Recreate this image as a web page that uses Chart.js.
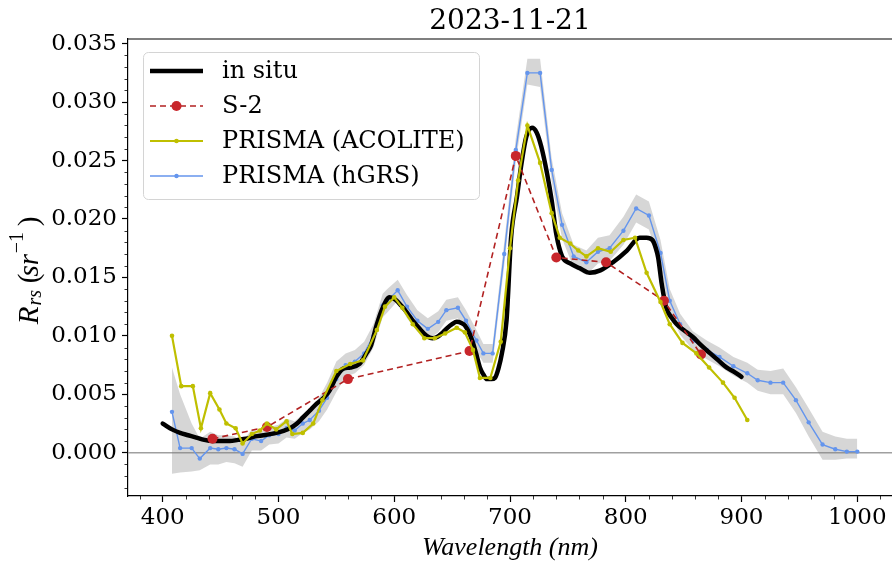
<!DOCTYPE html>
<html>
<head>
<meta charset="utf-8">
<script src="https://cdn.jsdelivr.net/npm/chart.js@4.4.1/dist/chart.umd.min.js"></script>
<style>
  html, body { margin: 0; padding: 0; background: #fff; }
  #wrap { width: 892px; height: 565px; }
</style>
</head>
<body>
<div id="wrap"><canvas id="rrsChart" width="892" height="565"></canvas></div>
<script>
// Remote sensing reflectance spectra, 2023-11-21
const insituWl = [400, 408, 415, 422, 429, 436, 443, 450, 458, 465, 472, 480, 487, 498, 505, 510, 516, 521, 527, 533,
  539, 544, 550, 556, 562, 570, 576, 580, 585, 590, 596, 601, 606, 611, 616, 622, 628, 633, 637, 641,
  645, 650, 654, 658, 661, 665, 668, 671, 674, 677, 680, 684, 687, 690, 693, 697, 701, 706, 710, 714,
  719, 723, 727, 732, 736, 740, 745, 752, 760, 769, 778, 789, 801, 812, 818, 823, 826, 828, 831, 835,
  840, 844, 850, 858, 865, 873, 880, 887, 894, 900];
const insituRrs = [0.0025, 0.0020, 0.0017, 0.0015, 0.0013, 0.0011, 0.0010, 0.0010, 0.0010, 0.0011, 0.0012, 0.0014, 0.0015, 0.0017, 0.0019, 0.0021, 0.0025, 0.0030, 0.0036, 0.0042,
  0.0047, 0.0053, 0.0065, 0.0072, 0.0073, 0.0076, 0.0085, 0.0092, 0.0110, 0.0124, 0.0133, 0.0131, 0.0126, 0.0120, 0.0113, 0.0106, 0.0100, 0.0098, 0.0099, 0.0102,
  0.0106, 0.0110, 0.0112, 0.0111, 0.0109, 0.0102, 0.0094, 0.0084, 0.0073, 0.0067, 0.0063, 0.0063, 0.0064, 0.0072, 0.0085, 0.0113, 0.0185, 0.0219, 0.0248, 0.0270,
  0.0278, 0.0274, 0.0262, 0.0239, 0.0216, 0.0187, 0.0168, 0.0162, 0.0158, 0.0154, 0.0156, 0.0163, 0.0173, 0.0184, 0.0184, 0.0182, 0.0175, 0.0167, 0.0145, 0.0124,
  0.0115, 0.0110, 0.0105, 0.0099, 0.0092, 0.0085, 0.0079, 0.0073, 0.0069, 0.0065];

const s2Wl = [443, 490, 560, 665, 705, 740, 783, 833, 865];
const s2Rrs = [0.0012, 0.0022, 0.0063, 0.0087, 0.0254, 0.0167, 0.0163, 0.0130, 0.0084];

const acoliteWl = [408, 416, 426, 433, 441, 449, 455, 463, 469, 477, 484, 490, 498, 507, 512, 521, 530, 538, 550, 562,
  573, 585, 592, 600, 607, 616, 626, 635, 644, 654, 661, 668, 674, 683, 692, 700, 707, 715, 726, 736,
  743, 752, 759, 766, 776, 787, 798, 808, 818, 830, 838, 849, 861, 872, 884, 894, 905];
const acoliteRrs = [0.0100, 0.0057, 0.0057, 0.0021, 0.0051, 0.0037, 0.0025, 0.0021, 0.0008, 0.0016, 0.0019, 0.0025, 0.0020, 0.0027, 0.0016, 0.0017, 0.0025, 0.0045, 0.0070, 0.0076,
  0.0079, 0.0105, 0.0125, 0.0133, 0.0124, 0.0110, 0.0098, 0.0098, 0.0102, 0.0107, 0.0103, 0.0088, 0.0064, 0.0064, 0.0095, 0.0175, 0.0233, 0.0280, 0.0248, 0.0205,
  0.0184, 0.0179, 0.0173, 0.0168, 0.0175, 0.0172, 0.0182, 0.0184, 0.0154, 0.0129, 0.0110, 0.0094, 0.0085, 0.0073, 0.0060, 0.0047, 0.0028];

const hgrsWl = [408, 415, 425, 432, 441, 448, 455, 462, 469, 477, 485, 492, 500, 507, 514, 521, 527, 535, 542, 550,
  558, 566, 574, 582, 590, 594, 603, 611, 620, 629, 638, 645, 655, 662, 671, 677, 685, 695, 705, 715,
  726, 736, 745, 755, 766, 776, 786, 798, 809, 820, 830, 838, 847, 858, 870, 881, 893, 905, 914, 925,
  936, 947, 958, 970, 981, 991, 1000];
const hgrsRrs = [0.0035, 0.0004, 0.0004, -0.0005, 0.0004, 0.0003, 0.0004, 0.0003, -0.0001, 0.0012, 0.0010, 0.0015, 0.0016, 0.0021, 0.0019, 0.0025, 0.0028, 0.0036, 0.0047, 0.0063,
  0.0075, 0.0078, 0.0085, 0.0100, 0.0126, 0.0130, 0.0139, 0.0125, 0.0113, 0.0106, 0.0112, 0.0122, 0.0124, 0.0113, 0.0096, 0.0085, 0.0085, 0.0170, 0.0259, 0.0325,
  0.0325, 0.0242, 0.0195, 0.0168, 0.0163, 0.0172, 0.0175, 0.0190, 0.0209, 0.0203, 0.0171, 0.0130, 0.0110, 0.0096, 0.0088, 0.0082, 0.0074, 0.0068, 0.0062, 0.0060,
  0.0060, 0.0045, 0.0026, 0.0007, 0.0003, 0.0001, 0.0001];
// hGRS spread (shaded envelope)
const hgrsLow = [-0.0018, -0.0017, -0.0016, -0.0015, -0.0010, -0.0010, -0.0008, -0.0009, -0.0012, 0.0002, 0.0002, 0.0007, 0.0008, 0.0013, 0.0012, 0.0017, 0.0020, 0.0027, 0.0037, 0.0052,
  0.0065, 0.0068, 0.0075, 0.0090, 0.0116, 0.0120, 0.0130, 0.0115, 0.0104, 0.0097, 0.0103, 0.0113, 0.0115, 0.0104, 0.0087, 0.0077, 0.0077, 0.0160, 0.0249, 0.0315,
  0.0313, 0.0232, 0.0183, 0.0158, 0.0152, 0.0162, 0.0164, 0.0178, 0.0197, 0.0191, 0.0160, 0.0120, 0.0101, 0.0088, 0.0080, 0.0074, 0.0066, 0.0060, 0.0053, 0.0050,
  0.0050, 0.0034, 0.0014, -0.0006, -0.0006, -0.0005, -0.0005];
const hgrsHigh = [0.0073, 0.0050, 0.0025, 0.0012, 0.0018, 0.0015, 0.0015, 0.0014, 0.0010, 0.0020, 0.0018, 0.0022, 0.0024, 0.0029, 0.0027, 0.0033, 0.0038, 0.0047, 0.0060, 0.0078,
  0.0085, 0.0088, 0.0095, 0.0110, 0.0136, 0.0140, 0.0148, 0.0135, 0.0122, 0.0115, 0.0121, 0.0131, 0.0133, 0.0122, 0.0105, 0.0093, 0.0093, 0.0180, 0.0269, 0.0337,
  0.0337, 0.0252, 0.0205, 0.0178, 0.0173, 0.0184, 0.0186, 0.0202, 0.0221, 0.0215, 0.0182, 0.0140, 0.0119, 0.0104, 0.0096, 0.0090, 0.0082, 0.0077, 0.0071, 0.0070,
  0.0072, 0.0056, 0.0038, 0.0018, 0.0014, 0.0012, 0.0012];

const xTicks = [400, 500, 600, 700, 800, 900, 1000];
const yTicks = [0, 0.005, 0.01, 0.015, 0.02, 0.025, 0.03, 0.035];
const xMinor = [380, 420, 440, 460, 480, 520, 540, 560, 580, 620, 640, 660, 680, 720, 740, 760, 780, 820, 840, 860, 880, 920, 940, 960, 980, 1020];
const yMinor = [-0.003, -0.002, -0.001, 0.001, 0.002, 0.003, 0.004, 0.006, 0.007, 0.008, 0.009, 0.011, 0.012, 0.013, 0.014,
  0.016, 0.017, 0.018, 0.019, 0.021, 0.022, 0.023, 0.024, 0.026, 0.027, 0.028, 0.029, 0.031, 0.032, 0.033, 0.034];

const pts = (xs, ys) => xs.map((x, i) => ({ x: x, y: ys[i] }));

const SERIF = '"DejaVu Serif", serif';
const TIMES = '"Liberation Serif", serif';

// y label with sub/superscripts, drawn rotated
function drawYLabel(ctx, cx, cy) {
  const parts = [
    { t: 'R', f: 'italic 29px ' + TIMES, dy: 0 },
    { t: 'rs', f: 'italic 20px ' + TIMES, dy: 6 },
    { t: ' (', f: '29px ' + TIMES, dy: 0 },
    { t: 'sr', f: 'italic 29px ' + TIMES, dy: 0 },
    { t: '\u22121', f: '20px ' + TIMES, dy: -12 },
    { t: ')', f: '29px ' + TIMES, dy: 0 },
  ];
  ctx.save();
  ctx.translate(cx, cy);
  ctx.rotate(-Math.PI / 2);
  let total = 0;
  parts.forEach((p) => { ctx.font = p.f; p.w = ctx.measureText(p.t).width; total += p.w; });
  let x = -total / 2;
  ctx.fillStyle = '#000';
  ctx.textBaseline = 'middle';
  parts.forEach((p) => {
    ctx.font = p.f;
    ctx.fillText(p.t, x, p.dy);
    x += p.w;
  });
  ctx.restore();
}

const decorations = {
  id: 'decorations',
  beforeDatasetsDraw(chart) {
    const { ctx, chartArea: a, scales } = chart;
    const y0 = scales.y.getPixelForValue(0);
    ctx.save();
    ctx.strokeStyle = '#a0a0a0';
    ctx.lineWidth = 1.5;
    ctx.beginPath();
    ctx.moveTo(a.left, y0);
    ctx.lineTo(a.right, y0);
    ctx.stroke();
    ctx.restore();
  },
  afterDraw(chart) {
    const { ctx, chartArea: a, scales } = chart;
    ctx.save();
    // top spine
    ctx.strokeStyle = '#000';
    ctx.lineWidth = 1.2;
    ctx.beginPath();
    ctx.moveTo(a.left, a.top);
    ctx.lineTo(a.right, a.top);
    ctx.stroke();

    // minor ticks
    ctx.lineWidth = 0.8;
    ctx.beginPath();
    xMinor.forEach((v) => {
      const px = Math.round(scales.x.getPixelForValue(v)) + 0.5;
      ctx.moveTo(px, a.bottom);
      ctx.lineTo(px, a.bottom + 3.5);
    });
    yMinor.forEach((v) => {
      const py = Math.round(scales.y.getPixelForValue(v)) + 0.5;
      ctx.moveTo(a.left, py);
      ctx.lineTo(a.left - 3.5, py);
    });
    ctx.stroke();

    // title
    ctx.fillStyle = '#000';
    ctx.font = '28px ' + SERIF;
    ctx.textAlign = 'center';
    ctx.textBaseline = 'middle';
    ctx.fillText('2023-11-21', (a.left + a.right) / 2, 22);

    // x label
    ctx.font = 'italic 26px ' + TIMES;
    ctx.fillText('Wavelength (nm)', (a.left + a.right) / 2, 548);

    drawYLabel(ctx, 30, (a.top + a.bottom) / 2 - 4);

    // legend box
    const lx = 143, ly = 52, lw = 336, lh = 147;
    ctx.beginPath();
    ctx.roundRect(lx + 0.5, ly + 0.5, lw, lh, 5);
    ctx.fillStyle = 'rgba(255,255,255,0.85)';
    ctx.fill();
    ctx.strokeStyle = '#d4d4d4';
    ctx.lineWidth = 1;
    ctx.stroke();

    const rows = [71, 106, 141, 176];
    chart.data.datasets.slice(0, 4).forEach((ds, i) => {
      const ry = rows[i];
      ctx.save();
      ctx.strokeStyle = ds.borderColor;
      ctx.lineWidth = ds.borderWidth;
      ctx.setLineDash(ds.borderDash || []);
      ctx.beginPath();
      ctx.moveTo(150, ry);
      ctx.lineTo(203, ry);
      ctx.stroke();
      ctx.setLineDash([]);
      if (ds.pointRadius > 0) {
        ctx.fillStyle = ds.pointBackgroundColor;
        ctx.beginPath();
        ctx.arc(176.5, ry, ds.pointRadius, 0, Math.PI * 2);
        ctx.fill();
      }
      ctx.restore();
      ctx.fillStyle = '#000';
      ctx.font = '24px ' + SERIF;
      ctx.textAlign = 'left';
      ctx.textBaseline = 'middle';
      ctx.fillText(ds.label, 222, ry + 1);
    });
    ctx.restore();
  }
};

new Chart(document.getElementById('rrsChart').getContext('2d'), {
  type: 'line',
  data: {
    datasets: [
      {
        label: 'in situ',
        data: pts(insituWl, insituRrs),
        borderColor: '#000000',
        borderWidth: 4.5,
        pointRadius: 0,
        cubicInterpolationMode: 'monotone',
        borderCapStyle: 'round',
        borderJoinStyle: 'round',
        order: 2,
      },
      {
        label: 'S-2',
        data: pts(s2Wl, s2Rrs),
        borderColor: '#b22222',
        borderWidth: 1.6,
        borderDash: [6, 4],
        pointRadius: 5,
        pointBackgroundColor: '#c8262b',
        pointBorderWidth: 0,
        order: 1,
      },
      {
        label: 'PRISMA (ACOLITE)',
        data: pts(acoliteWl, acoliteRrs),
        borderColor: '#bfbf00',
        borderWidth: 2.2,
        pointRadius: 2.3,
        pointBackgroundColor: '#bfbf00',
        pointBorderWidth: 0,
        order: 0,
      },
      {
        label: 'PRISMA (hGRS)',
        data: pts(hgrsWl, hgrsRrs),
        borderColor: '#6495ed',
        borderWidth: 1.4,
        pointRadius: 2.2,
        pointBackgroundColor: '#6495ed',
        pointBorderWidth: 0,
        order: 3,
      },
      {
        label: 'hGRS low',
        data: pts(hgrsWl, hgrsLow),
        borderWidth: 0,
        borderColor: 'rgba(0,0,0,0)',
        pointRadius: 0,
        fill: false,
        order: 5,
      },
      {
        label: 'hGRS high',
        data: pts(hgrsWl, hgrsHigh),
        borderWidth: 0,
        borderColor: 'rgba(0,0,0,0)',
        pointRadius: 0,
        fill: { target: 4 },
        backgroundColor: 'rgba(128,128,128,0.32)',
        order: 4,
      },
    ],
  },
  options: {
    responsive: false,
    animation: false,
    devicePixelRatio: 1,
    layout: { autoPadding: false, padding: { top: 39, left: 0, right: 0, bottom: 0 } },
    plugins: {
      legend: { display: false },
      tooltip: { enabled: false },
      title: { display: false },
    },
    scales: {
      x: {
        type: 'linear',
        min: 370,
        max: 1030,
        afterBuildTicks: (s) => { s.ticks = xTicks.map((v) => ({ value: v })); },
        afterFit: (s) => { s.height = 69; },
        grid: { drawOnChartArea: false, drawTicks: true, tickLength: 6, color: '#000', tickWidth: 1.2 },
        border: { display: true, color: '#000', width: 1.2 },
        ticks: {
          font: { family: SERIF, size: 23 },
          color: '#000',
          padding: 2,
          maxRotation: 0,
          autoSkip: false,
          callback: (v) => String(v),
        },
      },
      y: {
        type: 'linear',
        min: -0.0037,
        max: 0.0354,
        afterBuildTicks: (s) => { s.ticks = yTicks.map((v) => ({ value: v })); },
        afterFit: (s) => { s.width = 128; },
        grid: { drawOnChartArea: false, drawTicks: true, tickLength: 6, color: '#000', tickWidth: 1.2 },
        border: { display: true, color: '#000', width: 1.2 },
        ticks: {
          font: { family: SERIF, size: 23 },
          color: '#000',
          padding: 5,
          autoSkip: false,
          callback: (v) => v.toFixed(3),
        },
      },
    },
  },
  plugins: [decorations],
});
</script>
</body>
</html>
